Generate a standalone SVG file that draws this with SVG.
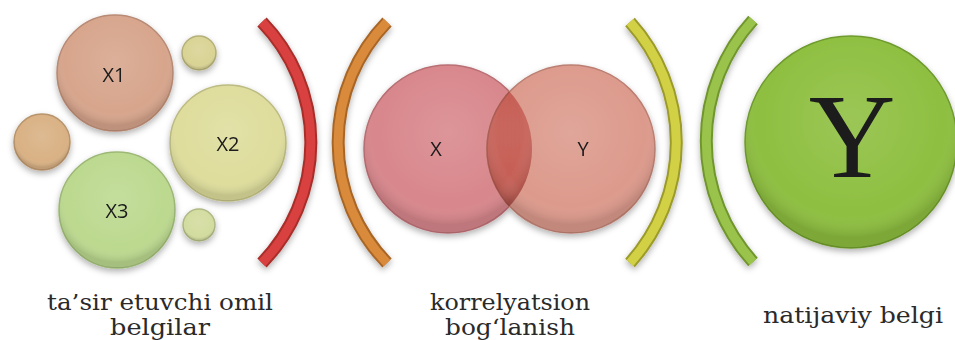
<svg xmlns="http://www.w3.org/2000/svg" width="955" height="340" viewBox="0 0 955 340">
  <style>
    .lbl { font-family: "Open Sans", "Liberation Sans", sans-serif; font-size: 20px; fill: #1a1a1a; text-anchor: middle; }
    .cap { font-family: "DejaVu Serif", "Liberation Serif", serif; font-size: 23px; fill: #2a2a2a; text-anchor: middle; }
    .big { font-family: "Liberation Serif", "DejaVu Serif", serif; font-size: 120px; fill: #1a1a1a; text-anchor: middle; }
    .rim { stroke-width: 1.5; }
    .arcO { fill: none; stroke-width: 13; stroke-linecap: butt; }
    .arcI { fill: none; stroke-width: 9; stroke-linecap: butt; }
  </style>
  <defs>
    <filter id="sh" x="-20%" y="-20%" width="140%" height="150%">
      <feDropShadow dx="0" dy="3" stdDeviation="3" flood-color="#000" flood-opacity="0.3"/>
    </filter>
    <radialGradient id="shade" cx="50%" cy="40%" r="55%">
      <stop offset="0" stop-color="#fff" stop-opacity="0.12"/>
      <stop offset="0.8" stop-color="#fff" stop-opacity="0"/>
      <stop offset="1" stop-color="#000" stop-opacity="0.12"/>
    </radialGradient>
    <clipPath id="clipX"><circle cx="448" cy="149" r="84"/></clipPath>
  </defs>

  <rect width="955" height="340" fill="#fff"/>

  <g id="node-small-left" filter="url(#sh)">
    <circle cx="42" cy="142" r="28" fill="#d9b184" stroke="#b8946c" class="rim"/>
    <circle cx="42" cy="142" r="28" fill="url(#shade)"/>
  </g>
  <g id="node-small-top" filter="url(#sh)">
    <circle cx="199" cy="53" r="17" fill="#d9d394" stroke="#b5b07a" class="rim"/>
    <circle cx="199" cy="53" r="17" fill="url(#shade)"/>
  </g>
  <g id="node-small-bottom" filter="url(#sh)">
    <circle cx="199" cy="225" r="16" fill="#d3dc9f" stroke="#b0b985" class="rim"/>
    <circle cx="199" cy="225" r="16" fill="url(#shade)"/>
  </g>
  <g id="node-x1" filter="url(#sh)">
    <circle cx="115" cy="73" r="58" fill="#d7a58c" stroke="#b88a74" class="rim"/>
    <circle cx="115" cy="73" r="58" fill="url(#shade)"/>
    <text class="lbl" x="114" y="82">X1</text>
  </g>
  <g id="node-x2" filter="url(#sh)">
    <circle cx="228" cy="143" r="58" fill="#dedd9c" stroke="#bcbb82" class="rim"/>
    <circle cx="228" cy="143" r="58" fill="url(#shade)"/>
    <text class="lbl" x="228" y="151">X2</text>
  </g>
  <g id="node-x3" filter="url(#sh)">
    <circle cx="117" cy="210" r="58" fill="#bcd98f" stroke="#9cb876" class="rim"/>
    <circle cx="117" cy="210" r="58" fill="url(#shade)"/>
    <text class="lbl" x="117" y="218">X3</text>
  </g>

  <g id="node-venn" filter="url(#sh)">
    <circle cx="448" cy="149" r="84" fill="#d8878c" stroke="#b86e73" class="rim"/>
    <circle cx="571" cy="149" r="84" fill="#dc9a8c" stroke="#bb7f72" class="rim"/>
    <circle cx="571" cy="149" r="84" fill="#c65f55" stroke="#a8554b" class="rim" clip-path="url(#clipX)"/>
    <circle cx="448" cy="149" r="84" fill="url(#shade)"/>
    <circle cx="571" cy="149" r="84" fill="url(#shade)"/>
    <text class="lbl" x="436" y="156">X</text>
    <text class="lbl" x="583" y="156">Y</text>
  </g>

  <g id="node-result" filter="url(#sh)">
    <circle cx="851" cy="142" r="106" fill="#8ebf40" stroke="#6f9a2e" class="rim"/>
    <circle cx="851" cy="142" r="106" fill="url(#shade)"/>
    <text class="big" x="852" y="177">Y</text>
  </g>

  <g id="connectors" filter="url(#sh)">
    <path class="arcO" stroke="#a82e2c" d="M262,22 A173,173 0 0 1 262,263"/>
    <path class="arcI" stroke="#d9413f" d="M262,22 A173,173 0 0 1 262,263"/>
    <path class="arcO" stroke="#a86628" d="M387,22 A173,173 0 0 0 387,263"/>
    <path class="arcI" stroke="#d98a3a" d="M387,22 A173,173 0 0 0 387,263"/>
    <path class="arcO" stroke="#9c9b2c" d="M630,22 A180,180 0 0 1 630,263"/>
    <path class="arcI" stroke="#d2d145" d="M630,22 A180,180 0 0 1 630,263"/>
    <path class="arcO" stroke="#71962f" d="M753,20 A180,180 0 0 0 753,262"/>
    <path class="arcI" stroke="#9ac34c" d="M753,20 A180,180 0 0 0 753,262"/>
  </g>

  <g id="labels">
    <text class="cap" x="160" y="310" textLength="226" lengthAdjust="spacingAndGlyphs">ta’sir etuvchi omil</text>
    <text class="cap" x="160" y="335" textLength="100" lengthAdjust="spacingAndGlyphs">belgilar</text>
    <text class="cap" x="510" y="310" textLength="160" lengthAdjust="spacingAndGlyphs">korrelyatsion</text>
    <text class="cap" x="510" y="335" textLength="130" lengthAdjust="spacingAndGlyphs">bog‘lanish</text>
    <text class="cap" x="853" y="323" textLength="180" lengthAdjust="spacingAndGlyphs">natijaviy belgi</text>
  </g>
</svg>
